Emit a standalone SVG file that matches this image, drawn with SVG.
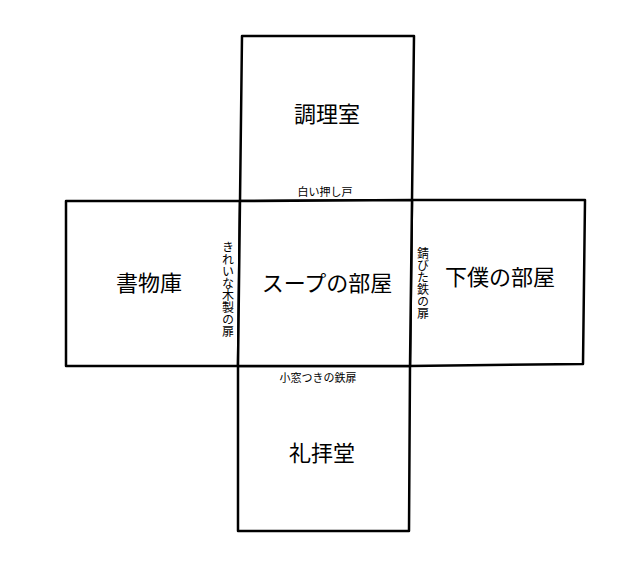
<svg xmlns="http://www.w3.org/2000/svg" width="639" height="577" viewBox="0 0 639 577">
<style>
.room{fill:#fff;stroke:#000;stroke-width:2.5;stroke-linejoin:round}
.lbl{font-family:"Noto Sans CJK JP","Noto Sans",sans-serif;font-size:22px;fill:#000;text-anchor:middle}
.door{font-family:"Noto Sans CJK JP","Noto Sans",sans-serif;font-size:11px;fill:#000;text-anchor:middle}
.vdoor{font-family:"Noto Sans CJK JP","Noto Sans",sans-serif;font-size:12px;fill:#000;writing-mode:vertical-rl;text-anchor:start}
</style>
<rect width="639" height="577" fill="#fff"/>
<g id="kitchen">
<polygon class="room" points="242,36 414,36 412,200 240,201"/>
<text class="lbl" x="327" y="122">調理室</text>
</g>
<g id="library">
<polygon class="room" points="66,201 240,201 238,366 66,366"/>
<text class="lbl" x="149" y="291">書物庫</text>
</g>
<g id="servant">
<polygon class="room" points="412,200 585,200 583,364 410,366"/>
<text class="lbl" x="500" y="285">下僕の部屋</text>
</g>
<g id="chapel">
<polygon class="room" points="238,366 410,366 409,531 238,531"/>
<text class="lbl" x="322" y="461">礼拝堂</text>
</g>
<g id="soup">
<polygon class="room" points="240,201 412,200 410,366 238,366"/>
<text class="lbl" x="327" y="291">スープの部屋</text>
</g>
<g id="doors">
<text class="door" x="325" y="196">白い押し戸</text>
<text class="door" x="318" y="382">小窓つきの鉄扉</text>
<text class="vdoor" x="228" y="241">きれいな木製の扉</text>
<text class="vdoor" x="423" y="247">錆びた鉄の扉</text>
</g>
</svg>
